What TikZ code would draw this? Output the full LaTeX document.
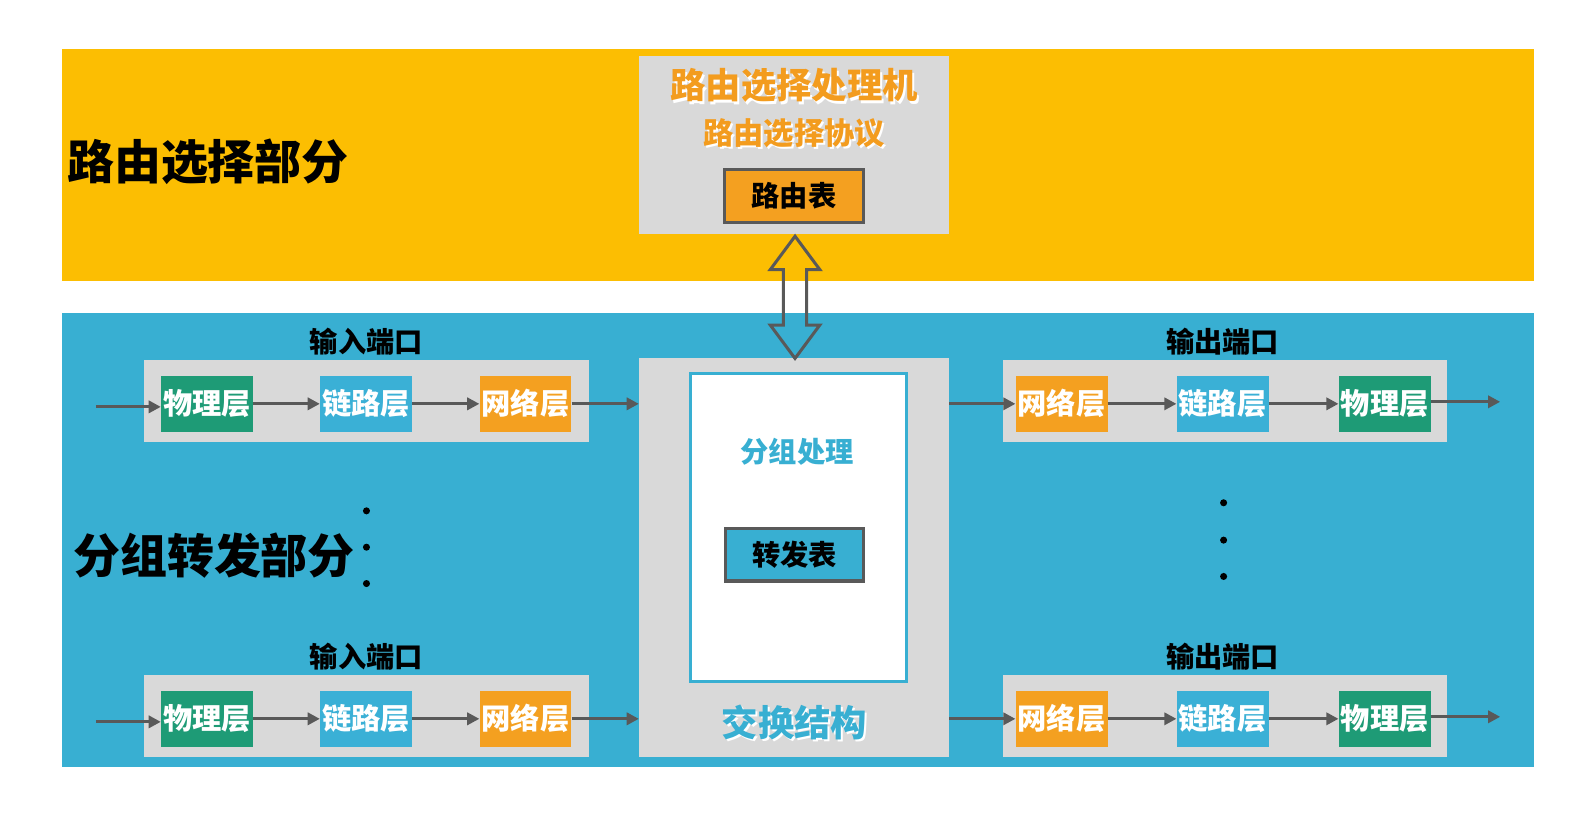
\documentclass[tikz,border=0pt]{standalone}
\usepackage{fontspec}
\setmainfont{Noto Sans CJK SC}
\usetikzlibrary{arrows.meta,calc}
\definecolor{bandorange}{RGB}{252,190,2}
\definecolor{bandblue}{RGB}{56,175,210}
\definecolor{boxgray}{RGB}{217,217,217}
\definecolor{phygreen}{RGB}{30,155,118}
\definecolor{linkblue}{RGB}{58,176,214}
\definecolor{netorange}{RGB}{244,160,32}
\definecolor{arrgray}{RGB}{89,89,89}
\definecolor{titleorange}{RGB}{243,156,30}
\newcommand{\fs}[1]{\fontsize{#1}{#1}\selectfont\bfseries}
\tikzset{
  band/.style={draw=none,inner sep=0pt},
  graybox/.style={fill=boxgray,draw=none,inner sep=0pt},
  layer/.style={minimum width=91pt,minimum height=56pt,inner sep=0pt,text=white,font=\fs{29}},
  phy/.style={layer,fill=phygreen},
  lnk/.style={layer,fill=linkblue},
  net/.style={layer,fill=netorange},
  tbl/.style={minimum width=137pt,minimum height=52pt,inner sep=0pt,draw=arrgray,line width=3pt,font=\fs{28},text=black},
  flow/.style={draw=arrgray,line width=3pt,-{Triangle[length=12pt,width=12pt]}},
  portlabel/.style={font=\fs{28},text=black},
  dot/.style={circle,fill=black,inner sep=0pt,minimum size=7pt},
}
\begin{document}
\begin{tikzpicture}[x=1pt,y=-1pt]
\useasboundingbox (0,0) rectangle (1568,816);
\fill[white] (0,0) rectangle (1568,816);
% bands
\node[band,fill=bandorange,minimum width=1458pt,minimum height=229pt] (orangeband) at (790,163.5) {};
\node[band,fill=bandblue,minimum width=1458pt,minimum height=450pt] (blueband) at (790,535) {};
\node[font=\fs{46.5},text=black] (t1) at (206,160) {路由选择部分};
\node[font=\fs{46.5},text=black] (t2) at (212,550) {分组转发部分};
% routing processor
\node[graybox,minimum width=307pt,minimum height=177pt] (rp) at (786.5,143.5) {};
\node[font=\fs{35},text=white] at (788.5,87) {路由选择处理机};
\node[font=\fs{35},text=titleorange] (rpt) at (786.5,85) {路由选择处理机};
\node[font=\fs{30},text=white] at (788.5,134) {路由选择协议};
\node[font=\fs{30},text=titleorange] (rpp) at (786.5,132) {路由选择协议};
\node[tbl,fill=netorange] (rt) at (786.5,194) {路由表};
% switch fabric
\node[graybox,minimum width=307pt,minimum height=395pt] (sw) at (786.5,552.5) {};
\node[draw=bandblue,line width=3pt,fill=white,minimum width=214pt,minimum height=305pt,inner sep=0pt] (pp) at (791,522.5) {};
\node[font=\fs{28},text=white] at (791.5,449) {分组处理};
\node[font=\fs{28},text=bandblue] (ppt) at (789.5,447) {分组处理};
\node[tbl,fill=bandblue] (ft) at (787,549.5) {转发表};
\node[font=\fs{36},text=white] at (789,718) {交换结构};
\node[font=\fs{36},text=bandblue] (swt) at (787,716) {交换结构};
% double arrow
\draw[arrgray,line width=3pt,line join=miter]
  (787.5,234) -- (812,267) -- (799,267) -- (799,322) -- (812,322) -- (787.5,355)
  -- (763,322) -- (776,322) -- (776,267) -- (763,267) -- cycle;
% port rows
\foreach \r/\yc in {1/400,2/712}{
  \node[graybox,minimum width=440pt,minimum height=81pt] (ig\r) at (363,\yc-2.5) {};
  \node[portlabel] (il\r) at (363,\yc-62) {输入端口};
  \node[phy] (ip\r) at (205,\yc) {物理层};
  \node[lnk] (il2\r) at (362.5,\yc) {链路层};
  \node[net] (in\r) at (520.5,\yc) {网络层};
  \coordinate (istart\r) at (95,\yc+3);
  \draw[flow] (istart\r) -- (ip\r.west|-istart\r);
  \draw[flow] (ip\r) -- (il2\r);
  \draw[flow] (il2\r) -- (in\r);
  \draw[flow] (in\r.east) -- (sw.west|-in\r.east);
  \node[graybox,minimum width=440pt,minimum height=81pt] (og\r) at (1213,\yc-2.5) {};
  \node[portlabel] (ol\r) at (1211,\yc-62) {输出端口};
  \node[net] (on\r) at (1051.5,\yc) {网络层};
  \node[lnk] (ol2\r) at (1211,\yc) {链路层};
  \node[phy] (op\r) at (1371.5,\yc) {物理层};
  \coordinate (oend\r) at (1486,\yc-2);
  \draw[flow] (sw.east|-on\r.west) -- (on\r.west);
  \draw[flow] (on\r) -- (ol2\r);
  \draw[flow] (ol2\r) -- (op\r);
  \draw[flow] (op\r.east|-oend\r) -- (oend\r);
}
% dots
\node[dot] (ld1) at (363,506) {};
\node[dot] (ld2) at (363,542) {};
\node[dot] (ld3) at (363,578) {};
\node[dot] (rd1) at (1212,498) {};
\node[dot] (rd2) at (1212,535) {};
\node[dot] (rd3) at (1212,571) {};
\end{tikzpicture}
\end{document}
